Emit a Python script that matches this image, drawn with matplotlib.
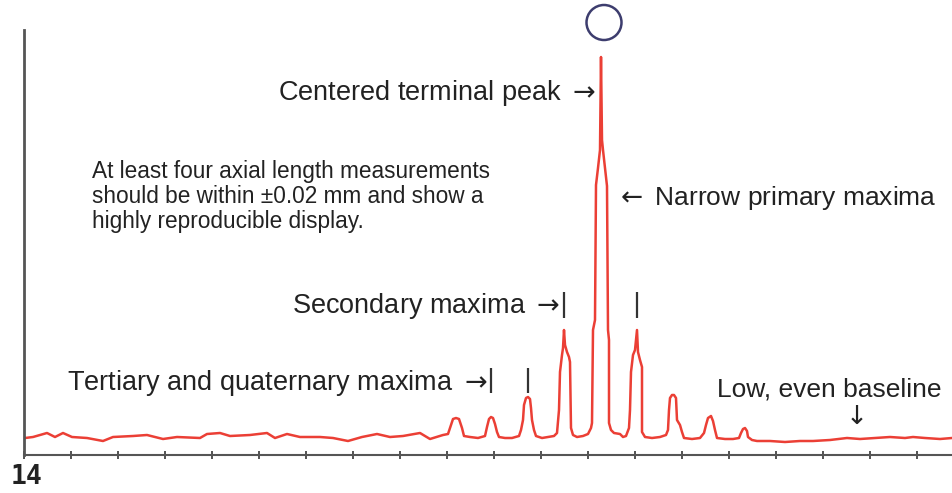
import numpy as np
import matplotlib
matplotlib.use("Agg")
import matplotlib.pyplot as plt
from matplotlib.patches import Circle
from matplotlib.ticker import MultipleLocator

plt.rcParams['font.family'] = ['Liberation Sans', 'DejaVu Sans']

# A-scan trace: sample position / amplitude
sample = [1, 9, 16, 23, 31, 39, 48, 63, 79, 89, 109, 123, 139, 153, 176, 183, 196, 206, 226, 243,
          251, 263, 276, 296, 309, 324, 338, 353, 366, 379, 396, 406, 419, 424,
          427, 429, 432, 435, 438, 440, 446, 454, 461,
          463, 465, 467, 469, 471, 473, 475, 481, 488, 495,
          497, 499, 500, 502, 504, 506, 507, 508, 510, 512, 518, 524, 530, 533,
          535, 536, 538, 539, 540, 541, 543, 545, 546, 547, 549, 553, 559, 564, 567,
          568, 569, 571, 572, 574, 576, 577, 578, 579, 581, 583, 584, 585, 585, 587, 590, 596, 599, 602, 605,
          606, 607, 609, 611, 613, 614, 616, 618, 618, 621, 628, 636, 642,
          644, 645, 646, 648, 650, 652, 653, 656, 658, 660, 668, 676, 680,
          682, 684, 687, 689, 691, 693, 701, 709, 715,
          717, 719, 721, 723, 724, 728, 733,
          746, 761, 776, 789, 806, 823, 836, 851, 866, 881, 889, 901, 916, 928]
amplitude = [17, 18, 20, 22, 18, 22, 18, 17, 14, 18, 19, 20, 16, 18, 17, 21, 22, 19, 20, 22,
             17, 21, 18, 18, 17, 14, 18, 21, 18, 19, 22, 16, 20, 21,
             30, 36, 37, 36, 27, 19, 18, 17, 19,
             28, 36, 38, 37, 31, 23, 18, 17, 17, 19,
             25, 35, 50, 57, 58, 56, 47, 35, 25, 19, 17, 18, 19, 22,
             45, 83, 100, 107, 125, 110, 103, 98, 93, 27, 20, 18, 19, 21, 27,
             32, 125, 135, 270, 287, 305, 398, 315, 305, 287, 269, 125, 115, 32, 25, 22, 21, 18, 19, 27,
             45, 83, 100, 105, 125, 103, 95, 88, 23, 18, 17, 18, 20,
             25, 45, 57, 60, 60, 57, 35, 30, 23, 17, 16, 17, 22,
             30, 37, 39, 34, 25, 17, 16, 16, 17,
             22, 26, 27, 24, 18, 15, 14,
             14, 13, 14, 14, 15, 17, 16, 17, 18, 17, 18, 17, 16, 17]

secondary_peaks = [540, 613]
tertiary_peaks = [467, 504]

fig = plt.figure(figsize=(9.52, 4.93), dpi=100)
ax = fig.add_axes([24/952, 38/493, 928/952, 425/493])
ax.plot(sample, amplitude, color='#eb3f35', lw=1.8, solid_joinstyle='round')
ax.set_xlim(0, 928)
ax.set_ylim(0, 425)

for s in ['top', 'right']:
    ax.spines[s].set_visible(False)
ax.spines['left'].set_color('#555555')
ax.spines['left'].set_linewidth(2)
ax.spines['bottom'].set_color('#555555')
ax.spines['bottom'].set_linewidth(1.5)
ax.xaxis.set_major_locator(MultipleLocator(47))
ax.tick_params(axis='x', direction='inout', length=6, width=1.3, color='#444444', labelbottom=False)
ax.set_yticks([])

# marker circle over the terminal peak
ax.add_patch(Circle((580, 432.5), 17.5, fill=False, ec='#3d3d6e', lw=1.8, clip_on=False))

tc = '#222222'
ax.text(572, 355, r'Centered terminal peak $\rightarrow$', ha='right', va='baseline', fontsize=19.5, color=tc)
ax.text(591, 250, r'$\leftarrow$ Narrow primary maxima', ha='left', va='baseline', fontsize=19, color=tc)
ax.text(536, 142, r'Secondary maxima $\rightarrow$', ha='right', va='baseline', fontsize=19.5, color=tc)
ax.text(464, 65, r'Tertiary and quaternary maxima $\rightarrow$', ha='right', va='baseline', fontsize=19.5, color=tc)
ax.text(693, 58, 'Low, even baseline', ha='left', va='baseline', fontsize=19, color=tc)
ax.text(828, 38, r'$\downarrow$', ha='center', va='center', fontsize=19, color=tc)

note = ['At least four axial length measurements',
        'should be within \u00b10.02 mm and show a',
        'highly reproducible display.']
for i, line in enumerate(note):
    ax.text(68, 277 - 25*i, line, ha='left', va='baseline', fontsize=16.3, color=tc)

ax.vlines(secondary_peaks, 137, 163, color='#333333', lw=1.6, clip_on=False)
ax.vlines(tertiary_peaks, 62, 87, color='#333333', lw=1.6, clip_on=False)

ax.text(-13, -9, '14', ha='left', va='top', fontsize=19, family='DejaVu Sans Mono',
        fontweight='bold', color='#222222', clip_on=False)

fig.savefig('out.png', dpi=100)
